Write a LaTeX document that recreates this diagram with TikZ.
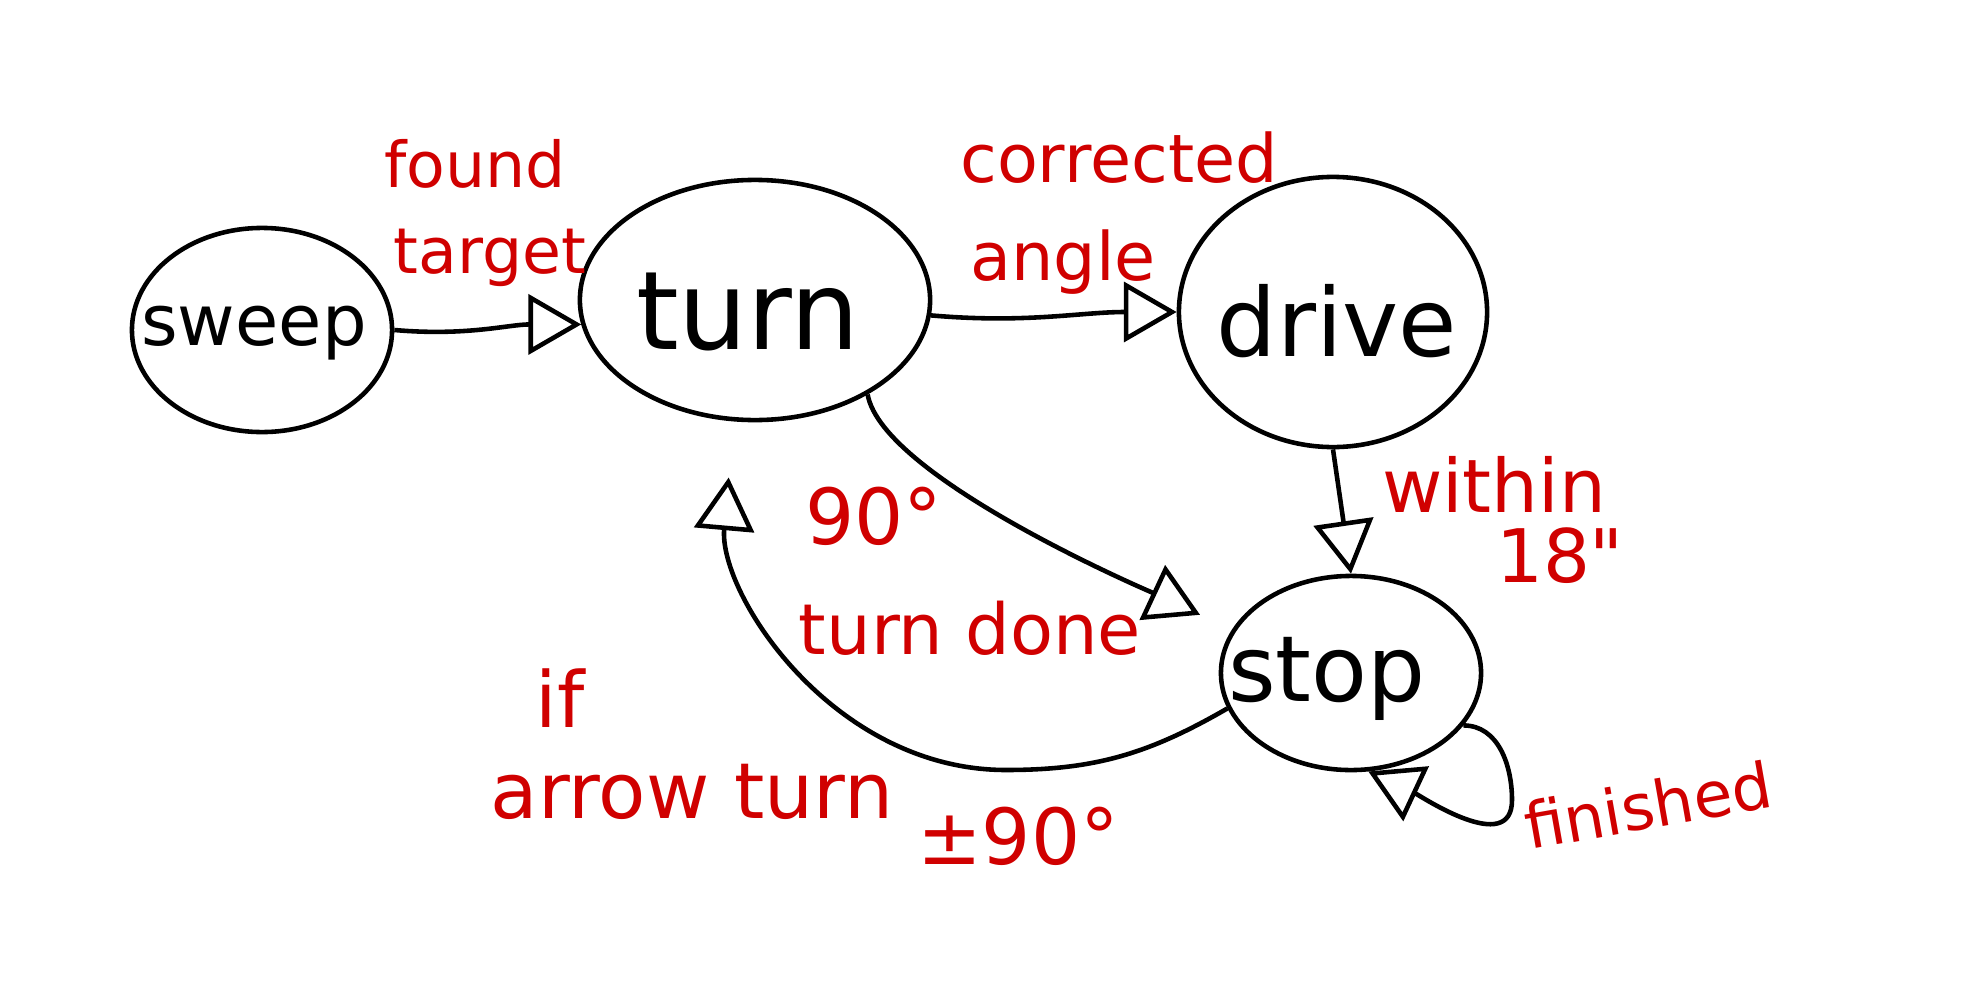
\documentclass[tikz,border=0pt]{standalone}
\usepackage{fontspec}
\setmainfont{DejaVu Sans}
\usetikzlibrary{arrows.meta,shapes.geometric}
\definecolor{inkred}{RGB}{208,0,0}
\begin{document}
\begin{tikzpicture}[x=0.01cm,y=-0.01cm,
  state/.style={draw=black,line width=1.3pt,ellipse,inner sep=0pt},
  stxt/.style={text=black,inner sep=0pt},
  lbl/.style={text=inkred,inner sep=0pt},
  conn/.style={draw=black,line width=1.3pt,-{Triangle[open,length=15pt,width=17pt,line width=1.3pt]}}]
\useasboundingbox (0,0) rectangle (1972,1000);
\fill[white] (0,0) rectangle (1972,1000);
% states
\node[state,minimum width=2.6cm,minimum height=2.04cm] (sweep) at (262,330) {};
\node[state,minimum width=3.5cm,minimum height=2.4cm] (turn) at (755,300) {};
\node[state,minimum width=3.08cm,minimum height=2.7cm] (drive) at (1333,312) {};
\node[state,minimum width=2.6cm,minimum height=1.94cm] (stop) at (1351,673) {};
\node[stxt,font=\fontsize{20}{23}\selectfont] (sweeptext) at (254,333) {sweep};
\node[stxt,font=\fontsize{31}{34}\selectfont] (turntext) at (748,312) {turn};
\node[stxt,font=\fontsize{27}{30}\selectfont] (drivetext) at (1337,321) {drive};
\node[stxt,font=\fontsize{26}{29}\selectfont] (stoptext) at (1327,679) {stop};
% labels
\node[lbl,font=\fontsize{18}{20}\selectfont] (l1a) at (475,164) {found};
\node[lbl,font=\fontsize{18}{20}\selectfont] (l1b) at (490,258) {target};
\node[lbl,font=\fontsize{19}{21}\selectfont] (l2a) at (1119,158) {corrected};
\node[lbl,font=\fontsize{19}{21}\selectfont] (l2b) at (1063,262) {angle};
\node[lbl,font=\fontsize{21}{23}\selectfont] (l3a) at (1494,484) {within};
\node[lbl,font=\fontsize{21}{23}\selectfont] (l3b) at (1560,556) {18\textquotedbl};
\node[lbl,font=\fontsize{22}{24}\selectfont] (l4a) at (874,516) {90°};
\node[lbl,font=\fontsize{20}{22}\selectfont] (l4b) at (970,628) {turn done};
\node[lbl,font=\fontsize{22}{24}\selectfont] (l5a) at (560,698) {if};
\node[lbl,font=\fontsize{22}{24}\selectfont] (l5b) at (692,792) {arrow turn};
\node[lbl,font=\fontsize{22}{24}\selectfont] (l6) at (1018,836) {±90°};
\node[lbl,font=\fontsize{18}{20}\selectfont,rotate=10] (l7) at (1648,805) {finished};
% connectors
\coordinate (loopA) at (1512,800);
\coordinate (bendB) at (1006,770);
\draw[conn] (sweep.east) to[out=-5,in=180] (turn.188);
\draw[conn] (turn.-5) to[out=-5,in=180] (drive.west);
\draw[conn] (drive.south) -- (stop.north);
\draw[conn,shorten >=10pt] (turn.-40) to[out=-80,in=155,looseness=0.5] (stop.160);
\draw[conn,shorten >=16pt] (stop.196) to[out=-150,in=0] (bendB) to[out=180,in=-95] (turn.-100);
\draw[conn] (stop.-25) to[out=0,in=90] (loopA) to[out=-90,in=-25] (stop.-80);
\end{tikzpicture}
\end{document}
